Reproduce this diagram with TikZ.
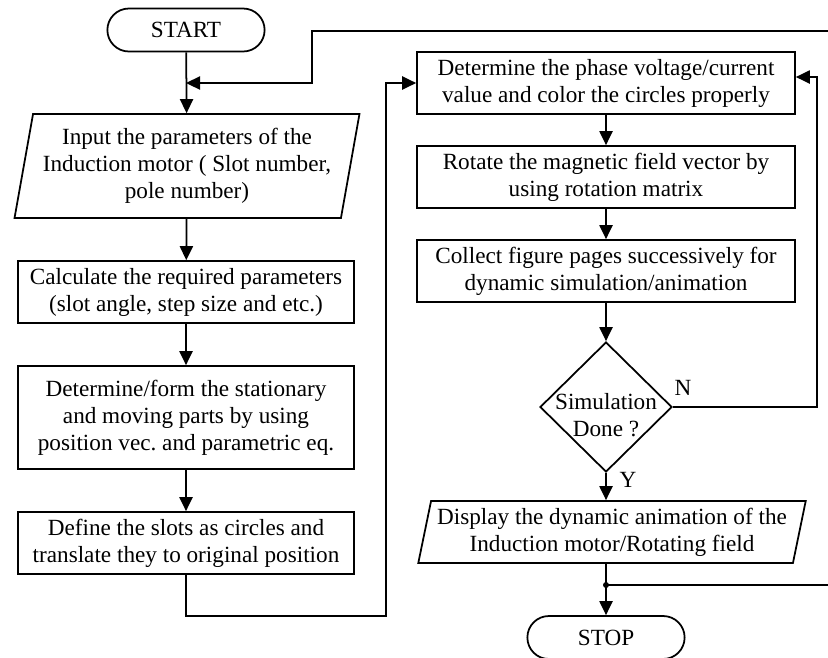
\documentclass[tikz,border=0pt]{standalone}
\usepackage{fontspec}
\setmainfont{Liberation Serif}
\frenchspacing
\usetikzlibrary{shapes.geometric,shapes.misc,arrows.meta}

\begin{document}
\begin{tikzpicture}[x=0.02cm, y=-0.02cm,
    font=\fontsize{13.2}{15.4}\selectfont,
    terminal/.style ={rounded rectangle, draw, line width=1pt, minimum width=3.38cm, minimum height=0.86cm},
    leftbox/.style ={rectangle, draw, line width=1pt, align=center, minimum width=6.72cm, minimum height=1.24cm},
    rightbox/.style ={rectangle, draw, line width=1pt, align=center, minimum width=7.56cm, minimum height=1.24cm},
    inout/.style ={trapezium, draw, line width=1pt, align=center, trapezium left angle=78, trapezium right angle=102,
                   trapezium stretches body},
    decision/.style ={diamond, draw, line width=1pt, align=center, inner sep=0pt, minimum width=2.64cm, minimum height=2.6cm},
    flow/.style ={line width=1pt, -{Triangle[length=8pt,width=7.5pt]}}]
   \clip (0,0) rectangle (828,657);

   % left column
   \node[terminal] (start) at (186,30) {START};
   \node[inout, minimum width=6.9cm, minimum height=2.08cm] (input) at (187,166)
        {Input the parameters of the\\Induction motor ( Slot number,\\pole number)};
   \node[leftbox] (calc) at (186,292) {Calculate the required parameters\\(slot angle, step size and etc.)};
   \node[leftbox, minimum height=2.06cm] (form) at (186,417.5)
        {Determine/form the stationary\\and moving parts by using\\position vec. and parametric eq.};
   \node[leftbox] (slots) at (186,543) {Define the slots as circles and\\translate they to original position};

   % right column
   \node[rightbox] (phase) at (606,83) {Determine the phase voltage/current\\value and color the circles properly};
   \node[rightbox] (rotate) at (606,177) {Rotate the magnetic field vector by\\using rotation matrix};
   \node[rightbox] (collect) at (606,271) {Collect figure pages successively for\\dynamic simulation/animation};
   \node[decision] (done) at (606,407) {\makebox[0pt]{\rule{0pt}{18pt}Simulation}\\\makebox[0pt]{Done ?}};
   \node[inout, minimum width=7.75cm, minimum height=1.24cm] (display) at (612,532)
        {Display the dynamic animation of the\\Induction motor/Rotating field};
   \node[terminal] (stop) at (606,637.5) {STOP};

   \node (no) at (683,388) {N};
   \node (yes) at (628,480) {Y};

   \coordinate (loopin) at (828,31);
   \coordinate (merge) at (186,83);
   \coordinate (split) at (606,585);
   \coordinate (loopout) at (828,585);

   \draw[flow] (start) to (input);
   \draw[flow] (loopin) -- (312,31) -- (312,83) -- (merge);
   \draw[flow] (input) to (calc);
   \draw[flow] (calc) to (form);
   \draw[flow] (form) to (slots);
   \draw[flow] (slots.south) |- (386,616) |- (phase.west);

   \draw[flow] (phase) to (rotate);
   \draw[flow] (rotate) to (collect);
   \draw[flow] (collect) to (done);
   \draw[flow] (done.east) -- (817,407) |- ([yshift=0.12cm]phase.east);
   \draw[flow] (done.south) -- (done.south |- display.north);
   \draw[flow] (done.south |- display.south) -- (stop);
   \draw[line width=1pt] (split) -- (loopout);
   \fill (split) circle (3);
 \end{tikzpicture}
\end{document}
